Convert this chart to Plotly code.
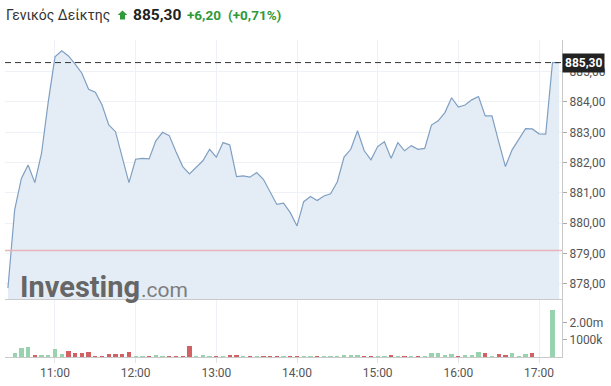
import plotly.graph_objects as go

DAY = "2024-01-01 "

times = [
    "10:25", "10:30", "10:35", "10:40", "10:45", "10:50", "10:55",
    "11:00", "11:05", "11:10", "11:15", "11:20", "11:25", "11:30", "11:35", "11:40", "11:45", "11:50", "11:55",
    "12:00", "12:05", "12:10", "12:15", "12:20", "12:25", "12:30", "12:35", "12:40", "12:45", "12:50", "12:55",
    "13:00", "13:05", "13:10", "13:15", "13:20", "13:25", "13:30", "13:35", "13:40", "13:45", "13:50", "13:55",
    "14:00", "14:05", "14:10", "14:15", "14:20", "14:25", "14:30", "14:35", "14:40", "14:45", "14:50", "14:55",
    "15:00", "15:05", "15:10", "15:15", "15:20", "15:25", "15:30", "15:35", "15:40", "15:45", "15:50", "15:55",
    "16:00", "16:05", "16:10", "16:15", "16:20", "16:25", "16:30", "16:35", "16:40", "16:45", "16:50", "16:55",
    "17:00", "17:05", "17:10", "17:15",
]

prices = [
    877.86, 880.44, 881.48, 881.92, 881.34, 882.31, 884.01,
    885.49, 885.69, 885.52, 885.25, 884.95, 884.42, 884.32, 883.90, 883.24, 883.02, 882.20, 881.34,
    882.11, 882.14, 882.12, 882.72, 883.00, 882.89, 882.36, 881.87, 881.63, 881.85, 882.06, 882.44,
    882.18, 882.66, 882.58, 881.54, 881.56, 881.52, 881.67, 881.45, 881.04, 880.62, 880.66, 880.35,
    879.91, 880.71, 880.88, 880.75, 880.90, 880.97, 881.37, 882.18, 882.44, 883.05, 882.39, 882.09,
    882.53, 882.69, 882.14, 882.66, 882.39, 882.56, 882.44, 882.47, 883.24, 883.38, 883.65, 884.14,
    883.83, 883.90, 884.07, 884.18, 883.54, 883.54, 882.69, 881.87, 882.42, 882.77, 883.12, 883.11,
    882.95, 882.94, 885.30, 885.30,
]

volumes = [
    0, 250000, 540000, 580000, 100000, 130000, 130000,
    440000, 190000, 370000, 210000, 230000, 290000, 80000, 80000, 150000, 170000, 190000, 290000,
    20000, 20000, 40000, 120000, 80000, 80000, 40000, 40000, 620000, 40000, 130000, 40000,
    20000, 20000, 130000, 130000, 40000, 60000, 40000, 80000, 80000, 40000, 60000, 40000,
    60000, 20000, 20000, 40000, 80000, 40000, 40000, 130000, 100000, 130000, 80000, 40000,
    20000, 80000, 130000, 80000, 80000, 80000, 40000, 20000, 250000, 250000, 130000, 170000,
    20000, 130000, 100000, 310000, 250000, 60000, 190000, 130000, 250000, 80000, 190000, 250000,
    0, 0, 2740000, 0,
]

x_tick_vals = ["11:00", "12:00", "13:00", "14:00", "15:00", "16:00", "17:00"]
x_tick_text = ["11:00", "12:00", "13:00", "14:00", "15:00", "16:00", "17:00"]
price_tick_vals = [878, 879, 880, 881, 882, 883, 884, 885]
price_tick_text = ["878,00", "879,00", "880,00", "881,00", "882,00", "883,00", "884,00", "885,00"]
vol_tick_vals = [1000000, 2000000]
vol_tick_text = ["1000k", "2.00m"]

index_name = "Γενικός Δείκτης"
last_price = 885.30
change = 6.20
change_pct = 0.71
prev_close = 879.10

UP = "#98d2ae"
DOWN = "#d26163"
GREEN_TXT = "#2f9a39"

# pixel -> paper helpers (plot area: x 5..562, y 40..357)
L, R, T, B = 5, 49, 40, 29
PW, PH = 611 - L - R, 386 - T - B


def px2x(px):
    return (px - L) / PW


def py2y(py):
    return (386 - B - py) / PH


def gr(v):
    return f"{v:.2f}".replace(".", ",")


x = [DAY + t for t in times]
bar_colors = [UP if i == 0 or prices[i] >= prices[i - 1] else DOWN for i in range(len(prices))]

fig = go.Figure()
fig.add_trace(go.Scatter(
    x=x, y=prices, mode="lines",
    line=dict(color="#7f9fc2", width=1.2),
    fill="tozeroy", fillcolor="#e4edf6",
    xaxis="x", yaxis="y", hoverinfo="skip", showlegend=False,
))
fig.add_trace(go.Bar(
    x=x, y=volumes, marker=dict(color=bar_colors, line=dict(width=0)),
    width=190000, xaxis="x2", yaxis="y2", hoverinfo="skip", showlegend=False,
))

x_range = [DAY + "10:22:49", DAY + "17:17:06"]
grid = "#eef1f5"
axis_line = "#c9c9c9"
tick_font = dict(family="Roboto", size=12, color="#555")

# house-shaped up arrow icon in the header
house = [(122.5, 10.5), (127.3, 15.0), (125.0, 15.0), (125.0, 19.5),
         (120.0, 19.5), (120.0, 15.0), (117.7, 15.0)]
house_path = "M " + " L ".join(f"{px2x(a):.5f},{py2y(b):.5f}" for a, b in house) + " Z"


def label(text, px, py, size, color, bold=False, family="Roboto"):
    return dict(
        xref="paper", yref="paper", x=px2x(px - 1), y=py2y(py),
        xanchor="left", yanchor="middle", showarrow=False, borderpad=0,
        text=f"<b>{text}</b>" if bold else text,
        font=dict(family=family, size=size, color=color),
    )


fig.update_layout(
    width=611, height=386,
    margin=dict(l=L, r=R, t=T, b=B),
    paper_bgcolor="white", plot_bgcolor="white",
    bargap=0,
    font=dict(family="Roboto", size=12, color="#333"),
    xaxis=dict(
        domain=[0, 1], anchor="y", type="date", range=x_range,
        tickvals=[DAY + t for t in x_tick_vals], showticklabels=False,
        showgrid=True, gridcolor=grid, gridwidth=1, zeroline=False,
        showline=True, linecolor=axis_line, linewidth=1, ticks="",
    ),
    xaxis2=dict(
        domain=[0, 1], anchor="y2", type="date", range=x_range, matches="x",
        tickvals=[DAY + t for t in x_tick_vals], ticktext=x_tick_text,
        showgrid=True, gridcolor=grid, gridwidth=1, zeroline=False,
        showline=True, linecolor=axis_line, linewidth=1,
        ticks="outside", ticklen=5, tickcolor="#e3e3e3", tickfont=tick_font,
    ),
    yaxis=dict(
        domain=[0.182, 1], anchor="x", side="right", range=[877.49, 886.045],
        tickvals=price_tick_vals, ticktext=price_tick_text,
        showgrid=True, gridcolor=grid, gridwidth=1, zeroline=False,
        showline=True, linecolor=axis_line, linewidth=1,
        ticks="outside", ticklen=4, tickcolor="#aaa", tickfont=tick_font,
    ),
    yaxis2=dict(
        domain=[0, 0.18], anchor="x2", side="right", range=[0, 3300000],
        tickvals=vol_tick_vals, ticktext=vol_tick_text,
        showgrid=False, zeroline=False,
        showline=True, linecolor=axis_line, linewidth=1,
        ticks="outside", ticklen=4, tickcolor="#aaa", tickfont=tick_font,
    ),
    shapes=[
        dict(type="line", xref="paper", x0=0, x1=1, yref="y", y0=prev_close, y1=prev_close,
             line=dict(color="#e6b4b9", width=1.5), layer="above"),
        dict(type="line", xref="paper", x0=0, x1=1, yref="y", y0=last_price, y1=last_price,
             line=dict(color="#333", width=1, dash="6px,4px"), layer="above"),
        dict(type="path", xref="paper", yref="paper", path=house_path,
             fillcolor=GREEN_TXT, line=dict(width=0)),
    ],
    annotations=[
        label(index_name, 6, 15.2, 14, "#333"),
        label(gr(last_price), 133, 14.5, 15.5, "#222", bold=True),
        label(f"+{gr(change)}", 187, 15.2, 13.5, GREEN_TXT, bold=True),
        label(f"(+{gr(change_pct)}%)", 228, 15.2, 13.5, GREEN_TXT, bold=True),
        dict(
            xref="paper", yref="y", x=1, y=last_price, xanchor="left", yanchor="middle",
            showarrow=False, text=f"<b>{gr(last_price)}</b>",
            font=dict(family="Roboto", size=12, color="white"),
            bgcolor="#222", borderpad=2,
        ),
        label("Investing", 20, 286.7, 29, "#666", bold=True),
        label(".com", 141, 290.3, 21, "#7d7d7d"),
    ],
)

fig.write_html("out.html")
